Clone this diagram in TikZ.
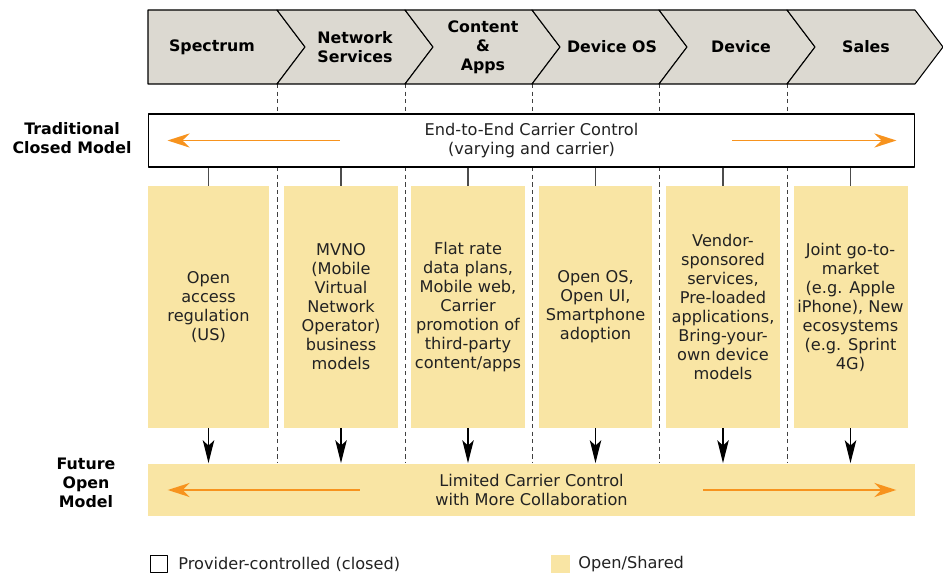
\documentclass[tikz,border=0pt]{standalone}
\usepackage{fontspec}
\setmainfont{DejaVu Sans}
\usetikzlibrary{arrows.meta,positioning}
\definecolor{chevgray}{RGB}{220,217,209}
\definecolor{openyellow}{RGB}{249,229,164}
\definecolor{ctrlorange}{RGB}{247,147,30}
\definecolor{txtgray}{RGB}{34,34,34}
\begin{document}
\begin{tikzpicture}[x=0.02cm,y=-0.02cm,line join=round,>=Stealth,
  every node/.style={font=\fontsize{9.2}{10.8}\selectfont,text=txtgray,align=center,inner sep=1pt},
  chev/.style={fill=chevgray,draw=black,line width=0.6pt},
  headlbl/.style={font=\fontsize{9}{10.8}\selectfont\bfseries,text=black},
  sidelbl/.style={font=\fontsize{9}{10.8}\selectfont\bfseries,text=black},
  colbox/.style={fill=openyellow,minimum width=2.28cm,minimum height=4.84cm},
  bandbox/.style={minimum width=15.34cm,minimum height=1.06cm},
  sepline/.style={dash pattern=on 2.5pt off 1.8pt,draw=black!75,line width=0.55pt},
  tickline/.style={draw=black!70,line width=0.6pt},
  downarr/.style={-{Stealth[length=13pt,width=6.5pt,inset=3pt]},line width=0.7pt},
  orangearr/.style={-{Stealth[length=12.5pt,width=8pt,inset=4pt]},draw=ctrlorange,line width=1.1pt}]
  \useasboundingbox (0,0) rectangle (943,574);
  \foreach \x in {277,405,532,659,787}
    \draw[sepline] (\x,84) -- (\x,463);
  \draw[chev] (148,10) -- (277,10) -- (305,47) -- (277,84) -- (148,84) -- cycle;
  \foreach \l/\r in {277/405,405/532,532/659,659/787,787/915}
    \draw[chev] (\l,10) -- (\r,10) -- (\r+28,47) -- (\r,84) -- (\l,84) -- (\l+28,47) -- cycle;
  \node[headlbl] (h1) at (212,47) {Spectrum};
  \node[headlbl] (h2) at (355,47) {Network\\Services};
  \node[headlbl] (h3) at (483,47) {Content\\\&\\Apps};
  \node[headlbl] (h4) at (612,47) {Device OS};
  \node[headlbl] (h5) at (741,47) {Device};
  \node[headlbl] (h6) at (866,47) {Sales};
  \node[bandbox,draw=black,fill=white,line width=0.6pt] (closed) at (531.5,140.5)
    {End-to-End Carrier Control\\(varying and carrier)};
  \node[bandbox,fill=openyellow] (open) at (531.5,490)
    {Limited Carrier Control\\with More Collaboration};
  \foreach \n/\x/\w/\txt in {
      c1/208.5/2.42/{Open\\access\\regulation\\(US)},
      c2/341/2.28/{MVNO\\(Mobile\\Virtual\\Network\\Operator)\\business\\models},
      c3/468/2.28/{Flat rate\\data plans,\\Mobile web,\\Carrier\\promotion of\\third-party\\content/apps},
      c4/595.5/2.28/{Open OS,\\Open UI,\\Smartphone\\adoption},
      c5/723/2.28/{Vendor-\\sponsored\\services,\\Pre-loaded\\applications,\\Bring-your-\\own device\\models},
      c6/850.5/2.28/{Joint go-to-\\market\\(e.g. Apple\\iPhone), New\\ecosystems\\(e.g. Sprint\\4G)}}
    \node[colbox,minimum width=\w cm] (\n) at (\x,307) {\txt};
  \foreach \n in {c1,c2,c3,c4,c5,c6}
  {
    \draw[tickline] (\n.north) -- (\n.north |- closed.south);
    \draw[downarr] (\n.south) -- (\n.south |- open.north);
  }
  \draw[orangearr] ([xshift=3.84cm]closed.west) -- ([xshift=0.4cm]closed.west);
  \draw[orangearr] ([xshift=-3.66cm]closed.east) -- ([xshift=-0.38cm]closed.east);
  \draw[orangearr] ([xshift=4.24cm]open.west) -- ([xshift=0.4cm]open.west);
  \draw[orangearr] ([xshift=-4.24cm]open.east) -- ([xshift=-0.38cm]open.east);
  \node[sidelbl] (trad) at (72,138.5) {Traditional\\Closed Model};
  \node[sidelbl] (fut) at (86,483) {Future\\Open\\Model};
  \node[draw=black,fill=white,minimum size=0.34cm,inner sep=0pt,line width=0.6pt] (lgclosed) at (159,564) {};
  \node[right=0.2cm of lgclosed,inner sep=0pt] (lgclosedtxt) {Provider-controlled (closed)};
  \node[fill=openyellow,minimum size=0.37cm,inner sep=0pt] (lgopen) at (560.5,564) {};
  \node[right=0.16cm of lgopen,inner sep=0pt] (lgopentxt) {Open/Shared};
\end{tikzpicture}
\end{document}
